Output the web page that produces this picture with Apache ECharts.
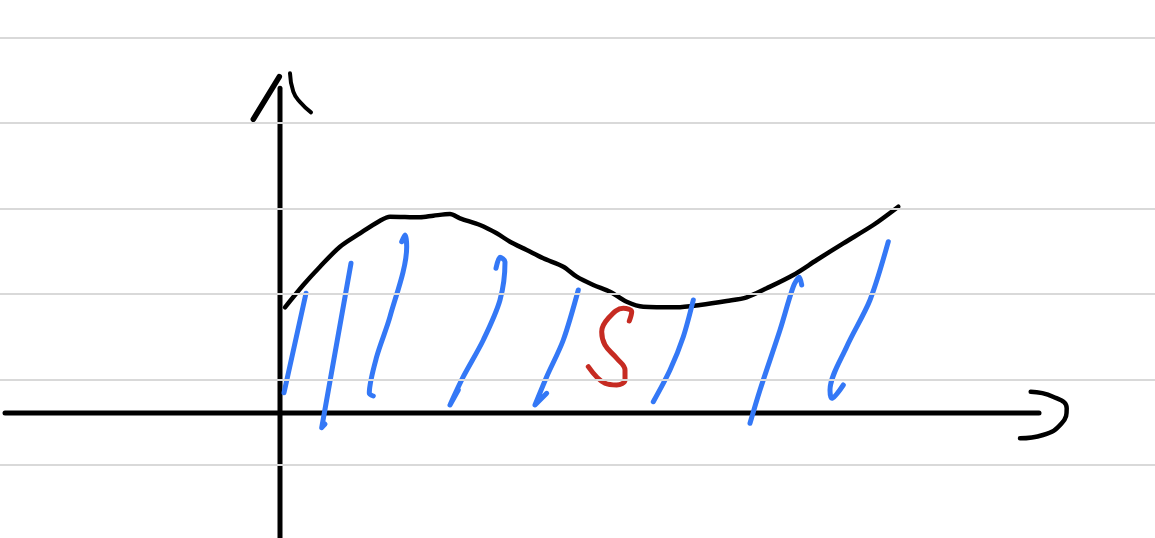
<!DOCTYPE html>
<html>
<head>
<meta charset="utf-8">
<script src="https://cdn.jsdelivr.net/npm/echarts@6/dist/echarts.min.js"></script>
<style>html,body{margin:0;padding:0;background:#fff;}#c{width:1155px;height:538px;}</style>
</head>
<body>
<div id="c"></div>
<script>
// Sketch units: origin at the drawn axes crossing, 1 unit = 10 px
const notebookLines = [-5.16, 3.37, 11.9, 20.47, 29.0, 37.53];

const xAxisStroke = [[-27.5, 0], [75.9, 0]];
const xArrowStroke = [[75.07, 2.13], [77.3, 1.63], [78.67, 0.47], [78.17, -1.03], [76.3, -2.2], [74.0, -2.53]];
const yAxisStroke = [[0, -12.5], [0, 32.47]];
const yArrowLeft = [[-2.67, 29.37], [-0.07, 33.63]];
const yArrowRight = [[1.0, 33.97], [1.33, 32.13], [2.0, 31.1], [3.1, 30.07]];

const curve = [
  [0.5, 10.57], [2.33, 12.8], [4.0, 14.63], [6.0, 16.63], [8.0, 17.97], [10.0, 19.23],
  [11.0, 19.63], [14.0, 19.57], [15.33, 19.73], [17.0, 19.9], [18.0, 19.47], [20.0, 18.8],
  [21.67, 17.97], [23.0, 17.13], [24.67, 16.3], [26.33, 15.47], [28.33, 14.63], [29.67, 13.63],
  [31.33, 12.8], [33.0, 12.13], [34.67, 11.13], [36.33, 10.63], [39.67, 10.57], [42.0, 10.8],
  [44.67, 11.2], [46.67, 11.57], [48.67, 12.47], [51.33, 13.8], [53.67, 15.3], [56.33, 16.97],
  [59.33, 18.8], [61.83, 20.63]
];

const hatch1 = [[2.6, 11.97], [0.4, 2.03]];
const hatch2 = [[7.1, 14.97], [4.17, -1.47], [4.5, -1.1]];
const hatch3 = [[12.17, 17.13], [12.5, 17.8], [12.67, 16.63], [11.0, 9.63], [9.67, 5.63], [8.93, 1.97], [9.33, 1.7]];
const hatch4 = [[21.6, 14.47], [22.0, 15.57], [22.5, 15.13], [22.0, 11.3], [20.33, 7.3], [18.33, 3.63], [17.0, 0.8], [17.83, 2.3]];
const hatch5 = [[29.83, 12.3], [28.33, 7.3], [26.67, 3.63], [25.5, 0.8], [26.67, 1.97]];
const hatch6 = [[41.33, 11.3], [40.33, 7.63], [39.0, 4.3], [37.33, 1.13]];
const hatch7 = [[47.0, -1.03], [48.0, 2.3], [50.0, 8.3], [51.33, 12.63], [51.93, 13.57], [52.17, 12.8]];
const hatch8 = [[60.83, 17.13], [59.0, 11.3], [56.67, 6.63], [55.0, 2.3], [55.17, 1.47], [56.33, 2.8]];
const hatches = [hatch1, hatch2, hatch3, hatch4, hatch5, hatch6, hatch7, hatch8];

const letterS = [[34.93, 9.2], [35.17, 10.13], [34.33, 10.47], [32.83, 9.47], [32.17, 8.13], [32.5, 6.8],
  [33.67, 5.47], [34.5, 4.3], [34.5, 3.3], [33.67, 2.8], [32.5, 2.97], [30.83, 4.63]];

function stroke(name, data, color, width, smooth) {
  return {
    name: name, type: 'line', data: data, showSymbol: false, symbol: 'none',
    smooth: smooth, silent: true, animation: false,
    lineStyle: { color: color, width: width, cap: 'round', join: 'round' }
  };
}

const series = [];
series.push({
  type: 'line', data: [], silent: true, animation: false,
  markLine: {
    silent: true, symbol: ['none', 'none'], label: { show: false },
    lineStyle: { color: '#d9d9d9', width: 2, type: 'solid' },
    data: notebookLines.map(v => ({ yAxis: v }))
  }
});
series.push(stroke('xaxis', xAxisStroke, '#000', 5, false));
series.push(stroke('xarrow', xArrowStroke, '#000', 4.5, 0.5));
series.push(stroke('yaxis', yAxisStroke, '#000', 5, false));
series.push(stroke('yarrowL', yArrowLeft, '#000', 5.5, false));
series.push(stroke('yarrowR', yArrowRight, '#000', 4, 0.5));
series.push(stroke('curve', curve, '#000', 4.5, 0.3));
hatches.forEach((h, i) => series.push(stroke('hatch' + i, h, '#3478f6', 5, 0.3)));
series.push(stroke('S', letterS, '#c62b22', 5, 0.4));

const chart = echarts.init(document.getElementById('c'));
chart.setOption({
  backgroundColor: '#ffffff',
  animation: false,
  grid: { left: 0, right: 0, top: 0, bottom: 0 },
  xAxis: { type: 'value', min: -28, max: 87.5, show: false },
  yAxis: { type: 'value', min: -12.5, max: 41.3, show: false },
  series: series
});
</script>
</body>
</html>
